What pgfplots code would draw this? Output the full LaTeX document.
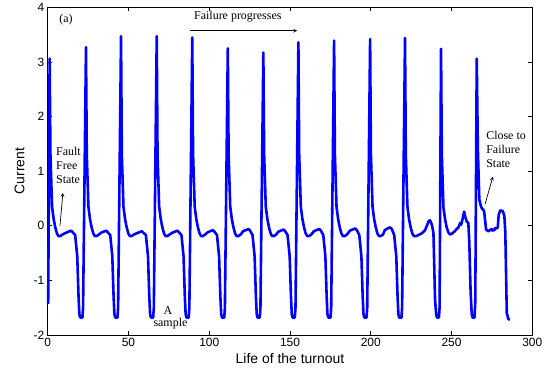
\documentclass[border=0pt]{standalone}
\usepackage{fontspec}
\setmainfont{Liberation Serif}
\setsansfont{Liberation Sans}
\usepackage{pgfplots}
\pgfplotsset{compat=1.18}
\begin{document}
\begin{tikzpicture}
\begin{axis}[
 width=484.6bp, height=327.7bp, scale only axis,
 xmin=0, xmax=300, ymin=-2, ymax=4,
 xtick={0,50,...,300}, ytick={-2,-1,...,4},
 tick align=inside, major tick length=4bp,
 axis line style={line width=0.6pt},
 tick style={line width=0.6pt, black},
 tick label style={font=\sffamily\fontsize{12}{14}\selectfont},
 /pgf/number format/assume math mode=true,
 xlabel={Life of the turnout}, ylabel={Current},
 label style={font=\sffamily\fontsize{14}{16}\selectfont},
 xlabel style={at={(axis description cs:0.5,-0.073)}, anchor=center},
 ylabel style={at={(axis description cs:-0.058,0.5)}, anchor=center},
 clip=false,
]
\addplot[blue, line width=2.6pt, line join=round] coordinates {
(0.3,-1.43)
(1.2,3.06)(1.7,1.3)(2.7,0.35)(3.7,0.12)(4.7,-0.03)(5.7,-0.14)(6.7,-0.19)(7.7,-0.19)(9.2,-0.16)(11.2,-0.13)(13.2,-0.105)(14.5,-0.09)(15.5,-0.12)(17.0,-0.17)(18.3,-0.56)(19.1,-1.3)(19.6,-1.62)(20.1,-1.68)(21.5,-1.68)(21.9,-1.5)
(23.7,3.27)(24.2,1.3)(25.2,0.35)(26.2,0.12)(27.2,-0.03)(28.2,-0.14)(29.2,-0.19)(30.2,-0.19)(31.7,-0.16)(32.9,-0.13)(34.9,-0.105)(36.2,-0.09)(37.2,-0.12)(38.7,-0.17)(40.0,-0.56)(40.8,-1.3)(41.3,-1.62)(41.8,-1.68)(43.2,-1.68)(43.6,-1.5)
(45.4,3.47)(45.9,1.3)(46.9,0.35)(47.9,0.12)(48.9,-0.03)(49.9,-0.14)(50.9,-0.19)(51.9,-0.19)(53.4,-0.16)(55.0,-0.14)(57.0,-0.115)(58.3,-0.1)(59.3,-0.13)(60.8,-0.17)(62.1,-0.56)(62.9,-1.3)(63.4,-1.62)(63.9,-1.68)(65.3,-1.68)(65.7,-1.5)
(67.5,3.47)(68.0,1.3)(69.0,0.35)(70.0,0.12)(71.0,-0.03)(72.0,-0.14)(73.0,-0.19)(74.0,-0.19)(75.5,-0.16)(77.0,-0.13)(79.0,-0.105)(80.3,-0.09)(81.3,-0.12)(82.8,-0.17)(84.1,-0.56)(84.9,-1.3)(85.4,-1.62)(85.9,-1.68)(87.3,-1.68)(87.7,-1.5)
(89.5,3.45)(90.0,1.3)(91.0,0.35)(92.0,0.12)(93.0,-0.03)(94.0,-0.14)(95.0,-0.19)(96.0,-0.19)(97.5,-0.16)(99.0,-0.12)(101.0,-0.095)(102.3,-0.08)(103.3,-0.11)(104.8,-0.17)(106.1,-0.56)(106.9,-1.3)(107.4,-1.62)(107.9,-1.68)(109.3,-1.68)(109.7,-1.5)
(111.5,3.25)(112.0,1.3)(113.0,0.35)(114.0,0.12)(115.0,-0.03)(116.0,-0.14)(117.0,-0.19)(118.0,-0.19)(119.5,-0.16)(121.0,-0.1)(123.0,-0.075)(124.3,-0.06)(125.3,-0.09)(126.8,-0.17)(128.1,-0.56)(128.9,-1.3)(129.4,-1.62)(129.9,-1.68)(131.3,-1.68)(131.7,-1.5)
(133.5,3.17)(134.0,1.3)(135.0,0.35)(136.0,0.12)(137.0,-0.03)(138.0,-0.14)(139.0,-0.19)(140.0,-0.19)(141.5,-0.16)(142.7,-0.11)(144.7,-0.085)(146.0,-0.07)(147.0,-0.1)(148.5,-0.17)(149.8,-0.56)(150.6,-1.3)(151.1,-1.62)(151.6,-1.68)(153.0,-1.68)(153.4,-1.5)
(155.2,3.36)(155.7,1.3)(156.7,0.35)(157.7,0.12)(158.7,-0.03)(159.7,-0.14)(160.7,-0.19)(161.7,-0.19)(163.2,-0.16)(164.8,-0.1)(166.8,-0.075)(168.1,-0.06)(169.1,-0.09)(170.6,-0.17)(171.9,-0.56)(172.7,-1.3)(173.2,-1.62)(173.7,-1.68)(175.1,-1.68)(175.5,-1.5)
(177.3,3.39)(177.8,1.3)(178.8,0.35)(179.8,0.12)(180.8,-0.03)(181.8,-0.14)(182.8,-0.19)(183.8,-0.19)(185.3,-0.16)(187.1,-0.09)(189.1,-0.065)(190.4,-0.05)(191.4,-0.08)(192.9,-0.17)(194.2,-0.56)(195.0,-1.3)(195.5,-1.62)(196.0,-1.68)(197.4,-1.68)(197.8,-1.5)
(199.6,3.42)(200.1,1.3)(201.1,0.35)(202.1,0.12)(203.1,-0.03)(204.1,-0.14)(205.1,-0.19)(206.1,-0.19)(207.6,-0.16)(208.7,-0.08)(210.7,-0.045)(212.0,-0.03)(213.0,-0.06)(214.5,-0.17)(215.8,-0.56)(216.6,-1.3)(217.1,-1.62)(217.6,-1.68)(219.0,-1.68)(219.4,-1.5)
(221.2,3.44)(221.7,1.3)(222.7,0.35)(223.7,0.12)(224.7,-0.03)(225.7,-0.14)(226.7,-0.19)(228.0,-0.19)(229.5,-0.17)(231.6,-0.14)(233.6,-0.08)(235.0,0.02)(235.7,0.08)(236.7,0.1)(237.8,0.02)(238.8,-0.13)(239.8,-1.36)(240.5,-1.62)(241.0,-1.68)(242.2,-1.68)(242.6,-1.5)
(243.5,3.24)(244.0,1.3)(245.0,0.33)(246.0,0.12)(247.0,-0.03)(248.0,-0.12)(249.1,-0.16)(250.5,-0.14)(252.0,-0.1)(253.5,-0.05)(254.5,-0.02)(255.3,0.05)(256.0,0.02)(256.8,0.12)(257.8,0.26)(258.6,0.15)(259.4,0.08)(260.4,0.05)(261.0,-0.3)(261.8,-1.2)(262.5,-1.62)(263.0,-1.68)(264.2,-1.68)(264.7,-1.4)
(265.6,3.06)(266.3,1.4)(267.2,0.48)(268.0,0.38)(268.7,0.32)(269.5,0.3)(270.2,0.26)(271.4,-0.07)(272.8,-0.1)(273.8,-0.08)(274.9,-0.06)(275.4,-0.09)(275.9,-0.07)(276.5,-0.08)(277.0,-0.04)(278.0,-0.05)(278.6,-0.03)(279.2,0.2)(280.1,0.28)(281.7,0.27)(282.7,0.18)(283.3,-0.13)(284.2,-1.6)(285.2,-1.71)(286.1,-1.72)
};
\begin{scope}[font=\rmfamily\fontsize{12}{14}\selectfont]
\node[anchor=west] at (axis cs:5.0,3.77) {(a)};
\node[anchor=west] at (axis cs:88.5,3.82) {Failure progresses};
\draw[line width=0.7pt, -stealth] (axis cs:88.1,3.57) -- (axis cs:154.4,3.57);
\node[anchor=west, align=left, inner sep=0pt] at (axis cs:5.1,1.1) {Fault\\Free\\State};
\draw[line width=0.7pt, -stealth] (axis cs:7.6,0.0) -- (axis cs:9.4,0.6);
\node[align=center, inner sep=0pt] at (axis cs:74.5,-1.55) {A};
\node[align=center, inner sep=0pt] at (axis cs:76,-1.8) {sample};
\node[anchor=west, align=left, inner sep=0pt] at (axis cs:271.4,1.39) {Close to\\Failure\\State};
\draw[line width=0.7pt, -stealth] (axis cs:270.8,0.4) -- (axis cs:275.6,0.9);
\end{scope}
\end{axis}
\pgfresetboundingbox
\path (current axis.south west) ++(-47.7bp,-35bp) coordinate (bbA);
\path (current axis.north east) ++(12.7bp,7.3bp) coordinate (bbB);
\path (bbA) rectangle (bbB);
\end{tikzpicture}
\end{document}
